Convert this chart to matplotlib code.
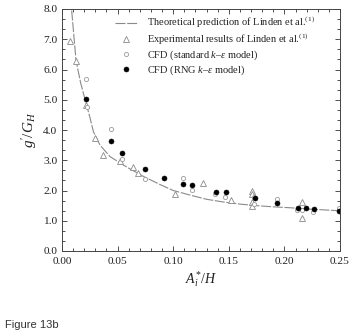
import matplotlib
matplotlib.use("Agg")
import matplotlib.pyplot as plt
from matplotlib.ticker import AutoMinorLocator

# Theoretical curve (Linden et al.) sampled along its trace
theory_x = [0.0087, 0.0126, 0.0168, 0.022, 0.0252, 0.0282, 0.0342, 0.0432, 0.058,
            0.073, 0.088, 0.1, 0.115, 0.13, 0.145, 0.16, 0.175, 0.19, 0.205, 0.22,
            0.235, 0.25]
theory_y = [7.95, 6.3, 5.55, 4.84, 4.4, 3.95, 3.5, 3.12, 2.78,
            2.47, 2.2, 2.0, 1.85, 1.71, 1.62, 1.55, 1.50, 1.46, 1.43, 1.39,
            1.36, 1.33]

# Experimental results (Linden et al.)
exp_x = [0.007, 0.0126, 0.022, 0.0297, 0.0372, 0.052, 0.064, 0.0686, 0.1016,
         0.127, 0.152, 0.1706, 0.1706, 0.1706, 0.1706, 0.2155, 0.2155]
exp_y = [6.95, 6.29, 4.84, 3.72, 3.18, 2.97, 2.78, 2.57, 1.87,
         2.24, 1.67, 2.0, 1.87, 1.62, 1.5, 1.63, 1.09]

# CFD, standard k-epsilon model
std_x = [0.0216, 0.0228, 0.0438, 0.054, 0.0746, 0.1085, 0.117, 0.138, 0.147,
         0.1725, 0.1725, 0.193, 0.2116, 0.2155, 0.226, 0.2494]
std_y = [5.69, 4.75, 4.03, 3.05, 2.39, 2.41, 2.03, 1.87, 1.79,
         1.78, 1.56, 1.73, 1.37, 1.37, 1.29, 1.43]

# CFD, RNG k-epsilon model
rng_x = [0.0213, 0.0438, 0.0542, 0.0746, 0.0914, 0.1085, 0.1172, 0.1384, 0.1474,
         0.1735, 0.193, 0.212, 0.219, 0.2266, 0.2494]
rng_y = [5.03, 3.62, 3.23, 2.70, 2.40, 2.23, 2.18, 1.96, 1.96,
         1.76, 1.59, 1.43, 1.42, 1.39, 1.33]

x_ticks = [0.00, 0.05, 0.10, 0.15, 0.20, 0.25]
y_ticks = [0.0, 1.0, 2.0, 3.0, 4.0, 5.0, 6.0, 7.0, 8.0]

plt.rcParams["font.family"] = ["Liberation Serif", "DejaVu Serif"]
plt.rcParams["mathtext.fontset"] = "custom"
plt.rcParams["mathtext.rm"] = "Liberation Serif"
plt.rcParams["mathtext.it"] = "Liberation Serif:italic"

fig = plt.figure(figsize=(3.5, 3.34), dpi=100)
ax = fig.add_axes([62 / 350, 1 - 251 / 334, 278 / 350, 242 / 334])

ax.plot(theory_x, theory_y, color="#8a8a8a", lw=0.8, dashes=(9, 1.5),
        label=r"Theoretical prediction of Linden et al.$^{(1)}$")
ax.plot(exp_x, exp_y, ls="none", marker="^", ms=4.8, mfc="white", mec="#8a8a8a",
        mew=0.6, label=r"Experimental results of Linden et al.$^{(1)}$")
ax.plot(std_x, std_y, ls="none", marker="o", ms=3.0, mfc="white", mec="#9a9a9a",
        mew=0.6, label=r"CFD (standard $k$–$\varepsilon$ model)")
ax.plot(rng_x, rng_y, ls="none", marker="o", ms=3.6, mfc="black", mec="black",
        mew=0.4, label=r"CFD (RNG $k$–$\varepsilon$ model)")

ax.set_xlim(0, 0.25)
ax.set_ylim(0, 8)
ax.set_xticks(x_ticks)
ax.set_xticklabels([f"{v:.2f}" for v in x_ticks])
ax.set_yticks(y_ticks)
ax.set_yticklabels([f"{v:.1f}" for v in y_ticks])
ax.xaxis.set_minor_locator(AutoMinorLocator(5))
ax.yaxis.set_minor_locator(AutoMinorLocator(3))
ax.tick_params(which="both", direction="in", top=True, right=True,
               labelsize=8.2, width=0.6, colors="#333333", labelcolor="#222222")
ax.tick_params(which="major", length=3.5)
ax.tick_params(axis="x", which="major", pad=4.5)
ax.tick_params(axis="y", which="major", pad=3.5)
ax.tick_params(which="minor", length=2)
for s in ax.spines.values():
    s.set_linewidth(0.7)
    s.set_color("#444444")

ax.set_xlabel(r"$A_i^{*}/H$", fontsize=10, labelpad=2, color="#222222")
ax.set_ylabel(r"$g'/G_H$", fontsize=11, labelpad=3, color="#222222")

leg = ax.legend(loc="upper left", bbox_to_anchor=(0.19, 0.975), frameon=False,
                fontsize=7.5, handlelength=2.2, handletextpad=0.9,
                labelspacing=0.15, borderpad=0, borderaxespad=0)
for t in leg.get_texts():
    t.set_color("#222222")

fig.text(5 / 350, 1 - 328 / 334, "Figure 13b", fontsize=8,
         family=["Liberation Sans", "DejaVu Sans"], color="#333333", va="baseline")

fig.savefig("out.png", dpi=100)
